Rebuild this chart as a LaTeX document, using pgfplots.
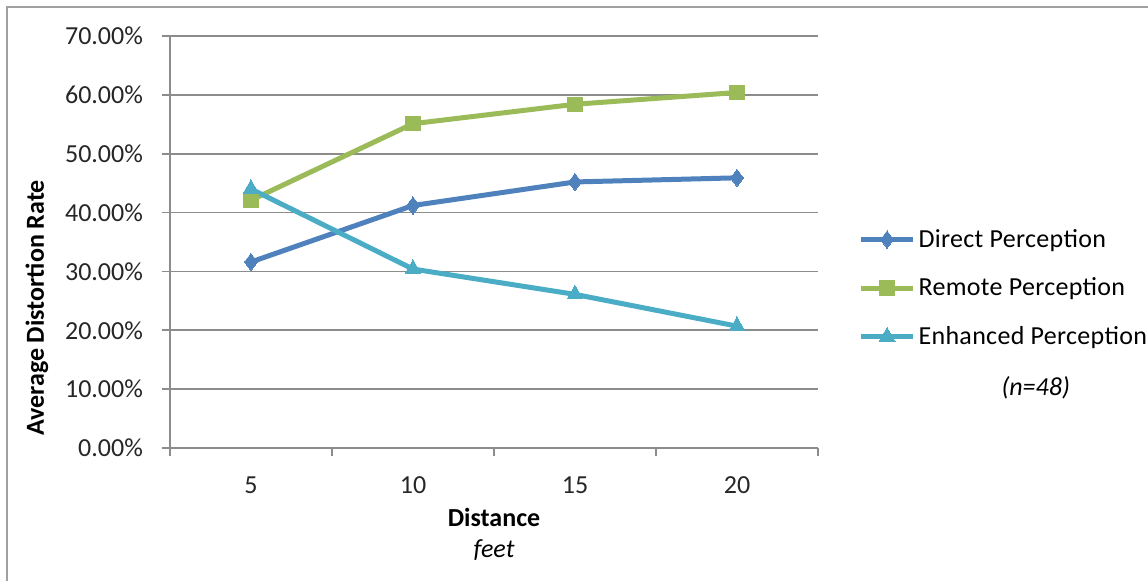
\documentclass[border=0pt]{standalone}
\usepackage{pgfplots}
\pgfplotsset{compat=1.18}
\usepackage{fontspec}
\setmainfont{Carlito}
\definecolor{cdirect}{HTML}{4F81BD}
\definecolor{cremote}{HTML}{9BBB59}
\definecolor{cenh}{HTML}{4BACC6}
\definecolor{cgrid}{HTML}{8C8C8C}
\definecolor{cframe}{HTML}{A0A0A0}
\begin{document}
\begin{tikzpicture}
\useasboundingbox (0,0) rectangle (574pt,290.5pt);
\draw[cframe,line width=0.8pt] (3.5pt,0pt) -- (3.5pt,287pt) -- (574pt,287pt);
\begin{axis}[
  at={(85pt,66.5pt)}, anchor=south west,
  scale only axis, width=324pt, height=206pt,
  xmin=0.5, xmax=4.5, ymin=0, ymax=70,
  axis x line*=bottom, axis y line*=left,
  axis line style={-,cgrid,line width=0.8pt},
  xtick={1,2,3,4}, xticklabels={5,10,15,20},
  minor xtick={0.5,1.5,2.5,3.5,4.5},
  ytick={0,10,...,70},
  yticklabel={\pgfmathprintnumber[fixed,fixed zerofill,precision=2]{\tick}\%},
  /pgf/number format/assume math mode=true,
  tick align=outside,
  major x tick style={draw=none},
  minor x tick style={cgrid,line width=0.8pt},
  major y tick style={cgrid,line width=0.8pt},
  major tick length=4pt, minor tick length=4pt,
  ymajorgrids, grid style={cgrid,line width=0.8pt},
  ticklabel style={font=\fontsize{13}{15}\selectfont, color=black!85},
  xticklabel style={yshift=-7pt},
  yticklabel style={xshift=-6pt},
  xlabel={\textbf{Distance}\\\textit{feet}},
  xlabel style={align=center, font=\fontsize{13}{15.5}\selectfont, yshift=0pt},
  ylabel={\textbf{Average Distortion Rate}},
  ylabel style={font=\fontsize{13}{15}\selectfont, at={(ticklabel cs:0.34,1.5pt)}},
  legend style={draw=none, fill=none, at={(rel axis cs:1.062,0.388)}, anchor=west,
    font=\fontsize{13}{15}\selectfont\addfontfeature{LetterSpace=1.2}, row sep=10.8pt, inner sep=0pt,
    nodes={inner sep=1.5pt}},
  legend cell align=left,
  legend image code/.code={
    \draw[#1, mark=none] (0pt,0pt) -- (26pt,0pt);
    \draw[#1, only marks] plot coordinates {(13pt,0pt)};
  },
  clip=false,
]
\addplot[cdirect, line width=2.5pt, mark=diamond*, mark size=4.3pt, mark options={solid,line width=0pt}]
  coordinates {(1,31.6) (2,41.2) (3,45.2) (4,45.9)};
\addlegendentry{Direct Perception}
\addplot[cremote, line width=2.5pt, mark=square*, mark size=3.6pt, mark options={solid,line width=0pt}]
  coordinates {(1,42.1) (2,55.1) (3,58.4) (4,60.4)};
\addlegendentry{Remote Perception}
\addplot[cenh, line width=2.5pt, mark=triangle*, mark size=4.6pt, mark options={solid,line width=0pt}]
  coordinates {(1,44.0) (2,30.4) (3,26.1) (4,20.7)};
\addlegendentry{Enhanced Perception}
\node[font=\fontsize{13}{15}\selectfont\itshape] at (rel axis cs:1.336,0.147) {(n=48)};
\end{axis}
\end{tikzpicture}
\end{document}
